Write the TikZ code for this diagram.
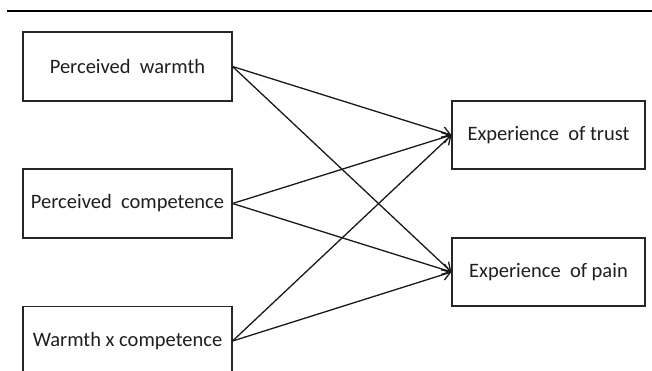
\documentclass[tikz,border=0pt]{standalone}
\usepackage{fontspec}
\setmainfont{Carlito}
\usetikzlibrary{arrows.meta}
\begin{document}
\begin{tikzpicture}[x=1pt,y=-1pt,
  box/.style={draw=black!85, line width=1.1pt, minimum width=209pt, minimum height=69pt, inner sep=0pt, font=\fontsize{20.5}{24}\selectfont, text=black!88, anchor=center},
  link/.style={draw=black!90, line width=1.3pt, -{Straight Barb[length=8pt,width=11pt,line width=1.3pt]}}]
\useasboundingbox (0,0) rectangle (652,370);
\clip (0,0) rectangle (652,370);
\fill[white] (0,0) rectangle (652,370);
\draw[line width=2.4pt, black] (7,11) -- (652,11);
\node[box] (pw) at (127.5,66.5) {Perceived\ \ warmth};
\node[box] (pc) at (127.5,203.5) {Perceived\ \ competence};
\node[box] (wc) at (127.5,341) {Warmth x competence};
\node[box, minimum width=193pt, minimum height=68pt] (tr) at (548.5,135) {Experience\ \ of trust};
\node[box, minimum width=193pt, minimum height=68pt] (pa) at (548.5,272) {Experience\ \ of pain};
\foreach \s in {pw,pc,wc}{
  \draw[link] (\s.east) -- (tr.west);
  \draw[link] (\s.east) -- (pa.west);
}
\end{tikzpicture}
\end{document}
